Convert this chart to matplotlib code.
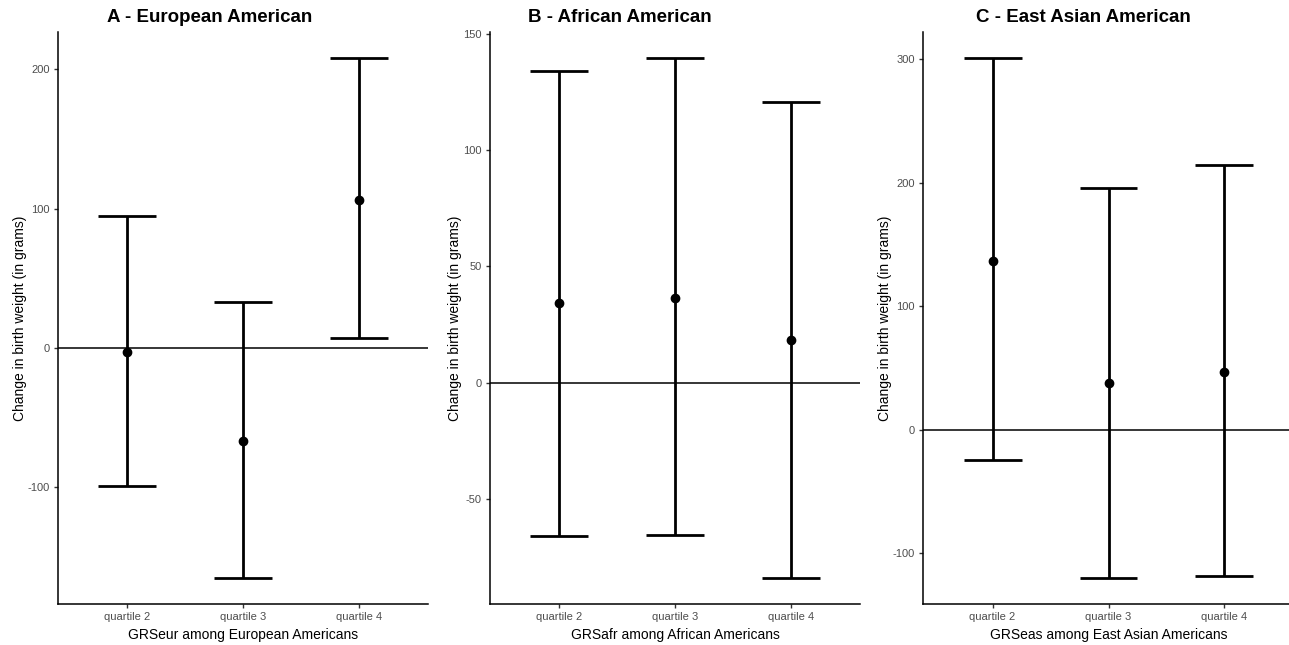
import numpy as np
import matplotlib
matplotlib.use("Agg")
import matplotlib.pyplot as plt

plt.rcParams['font.family'] = ['Liberation Sans', 'DejaVu Sans']
plt.rcParams['axes.unicode_minus'] = False

quartiles = ["quartile 2", "quartile 3", "quartile 4"]

# point estimate, lower CI, upper CI (grams)
eur_est = [-3, -67, 106]
eur_lo = [-99, -165, 7]
eur_hi = [95, 33, 208]

afr_est = [34, 36.5, 18.5]
afr_lo = [-66, -65.5, -84]
afr_hi = [134, 139.5, 120.5]

eas_est = [137, 38, 47]
eas_lo = [-24.5, -120, -118]
eas_hi = [301, 196, 214]

titles = ["A - European American", "B - African American", "C - East Asian American"]
xlabels = ["GRSeur among European Americans", "GRSafr among African Americans",
           "GRSeas among East Asian Americans"]
yticks = [[-100, 0, 100, 200], [-50, 0, 50, 100, 150], [-100, 0, 100, 200, 300]]

W, H = 1289, 645
fig = plt.figure(figsize=(W / 100, H / 100), dpi=100)

# pixel boxes of each panel: left, right
boxes = [(58, 428), (490, 860), (923, 1294)]
title_x = [210, 620, 1083]
top, bottom = 32, 604

panels = [(eur_est, eur_lo, eur_hi), (afr_est, afr_lo, afr_hi), (eas_est, eas_lo, eas_hi)]

for k, (est, lo, hi) in enumerate(panels):
    l, r = boxes[k]
    ax = fig.add_axes([l / W, 1 - bottom / H, (r - l) / W, (bottom - top) / H])
    x = np.arange(1, 4)
    est, lo, hi = np.array(est), np.array(lo), np.array(hi)

    ax.axhline(0, color="black", lw=1.1, zorder=1)
    ax.vlines(x, lo, hi, color="black", lw=2.0, zorder=2)
    ax.hlines(lo, x - 0.25, x + 0.25, color="black", lw=2.0, zorder=2)
    ax.hlines(hi, x - 0.25, x + 0.25, color="black", lw=2.0, zorder=2)
    ax.plot(x, est, "o", color="black", ms=6, zorder=3)

    span = hi.max() - lo.min()
    ax.set_ylim(lo.min() - 0.05 * span, hi.max() + 0.05 * span)
    ax.set_xlim(0.4, 3.6)
    ax.set_xticks(x)
    ax.set_xticklabels(quartiles)
    ax.set_yticks(yticks[k])

    for s in ["top", "right"]:
        ax.spines[s].set_visible(False)
    for s in ["left", "bottom"]:
        ax.spines[s].set_linewidth(1.1)
        ax.spines[s].set_color("black")
    ax.tick_params(axis="both", labelsize=8, labelcolor="#4d4d4d", length=3,
                   width=1.0, color="#333333", pad=3)

    ax.set_xlabel(xlabels[k], fontsize=10, labelpad=4)
    ax.set_ylabel("Change in birth weight (in grams)", fontsize=10, labelpad=0.5)

    fig.text(title_x[k] / W, 1 - 17 / H, titles[k], ha="center", va="center",
             fontsize=13.5, fontweight="bold")

fig.savefig("out.png", dpi=100)
